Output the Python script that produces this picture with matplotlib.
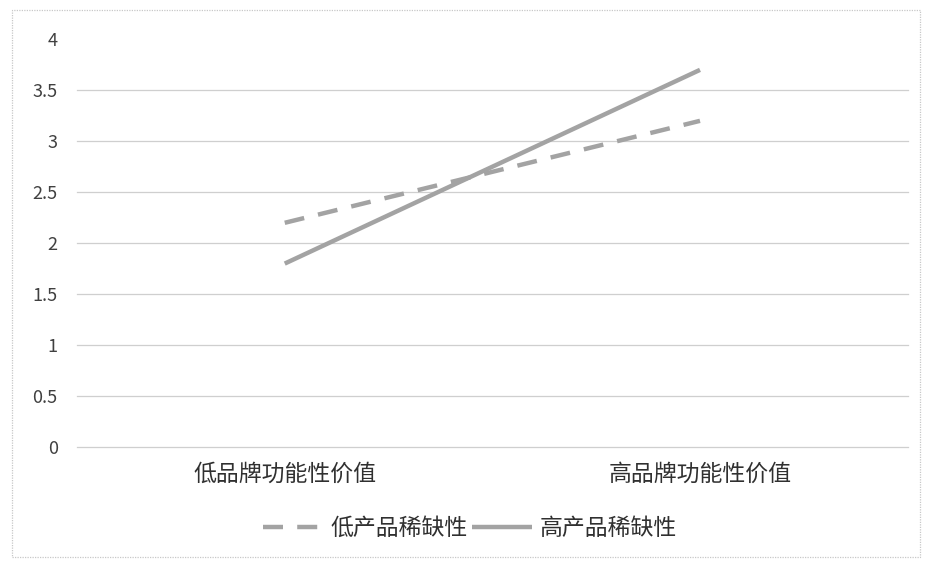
import matplotlib.pyplot as plt
from matplotlib.patches import Rectangle

plt.rcParams['font.family'] = ['Noto Sans CJK SC', 'DejaVu Sans']

categories = ['低品牌功能性价值', '高品牌功能性价值']
low_scarcity = [2.2, 3.2]
high_scarcity = [1.8, 3.7]
series_names = ['低产品稀缺性', '高产品稀缺性']
y_ticks = [0, 0.5, 1, 1.5, 2, 2.5, 3, 3.5, 4]
y_tick_labels = ['0', '0.5', '1', '1.5', '2', '2.5', '3', '3.5', '4']

fig = plt.figure(figsize=(9.29, 5.61), dpi=100)
ax = fig.add_axes([0.083, 0.203, 0.894, 0.727])

line_color = '#a3a3a3'
x = [0.5, 1.5]
ax.plot(x, low_scarcity, color=line_color, lw=3.2, dashes=(4.5, 3.2),
        solid_capstyle='butt', dash_capstyle='butt', label=series_names[0])
ax.plot(x, high_scarcity, color=line_color, lw=3.2, solid_capstyle='butt',
        label=series_names[1])

# horizontal gridlines only, Excel style
for yv in y_ticks[:-1]:
    ax.axhline(yv, color='#cfcfcf', lw=0.9, zorder=0, clip_on=False)

ax.set_xlim(0, 2)
ax.set_ylim(0, 4)
ax.set_yticks(y_ticks)
ax.set_yticklabels(y_tick_labels, fontsize=13, color='#404040')
ax.set_xticks(x)
ax.set_xticklabels(categories, fontsize=16.5, color='#303030')
ax.tick_params(length=0)
ax.tick_params(axis='x', pad=11)
ax.tick_params(axis='y', pad=14)
for s in ax.spines.values():
    s.set_visible(False)

ax.legend(loc='center', bbox_to_anchor=(0.473, -0.199), ncol=2,
          frameon=False, fontsize=16.5, handlelength=2.6, handletextpad=0.35,
          columnspacing=0.2, labelcolor='#303030', borderpad=0)

# chart outer border
fig.patches.append(Rectangle((0.013, 0.008), 0.977, 0.975, transform=fig.transFigure,
                             fill=False, edgecolor='#c8c8c8', lw=0.9, ls=(0, (1, 1))))

fig.savefig('out.png', dpi=100, facecolor='white')
